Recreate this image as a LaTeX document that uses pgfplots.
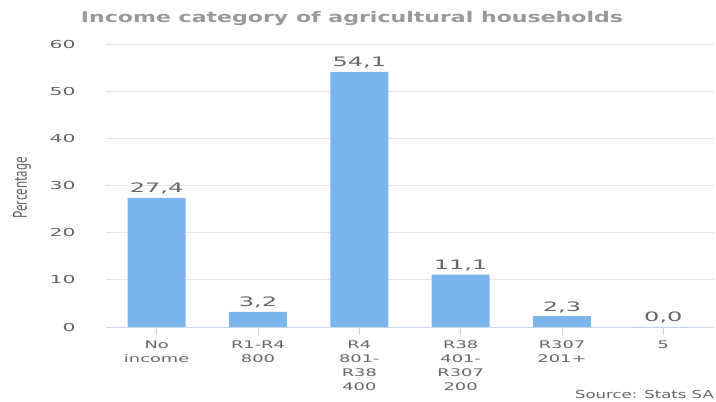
\documentclass[border=0pt]{standalone}
\usepackage{pgfplots}
\pgfplotsset{compat=1.18}
\usepackage{fontspec}
\setmainfont{DejaVu Sans}[FakeStretch=1.5]
\newfontfamily\ylabfont{PT Sans}
\newfontfamily\tickfont{DejaVu Sans}[FakeStretch=1.85]
\newfontfamily\catfont{DejaVu Sans}[FakeStretch=1.7]
\definecolor{barc}{HTML}{7CB5EC}
\definecolor{gridc}{HTML}{E6E6E6}
\definecolor{axc}{HTML}{CCD6EB}
\definecolor{tickc}{HTML}{666666}
\definecolor{titlec}{HTML}{999999}
\begin{document}
\begin{tikzpicture}[x=1pt,y=1pt]
\path[use as bounding box] (0,0) rectangle (716,402);
\begin{axis}[
  at={(106pt,75pt)}, anchor=south west,
  scale only axis, width=608pt, height=283pt,
  xmin=-0.5, xmax=5.5, ymin=0, ymax=60,
  ytick={0,10,...,60},
  xtick={0,...,5},
  xticklabels={{No\\income},{R1-R4\\800},{R4\\801-\\R38\\400},{R38\\401-\\R307\\200},{R307\\201+},{5}},
  xticklabel style={align=center, font=\catfont\fontsize{10.5}{14}\selectfont, text=tickc, yshift=-2pt},
  yticklabel style={font=\tickfont\fontsize{11}{13}\selectfont, text=tickc, xshift=-19pt},
  /pgf/number format/assume math mode=true,
  ymajorgrids, grid style={draw=gridc, line width=0.8pt},
  axis x line*=bottom, axis y line*=left,
  x axis line style={draw=axc, line width=0.8pt, -},
  y axis line style={draw=none},
  tick align=outside, major tick length=8pt,
  xtick style={draw=axc, line width=0.8pt},
  ytick style={draw=none},
  ylabel={\scalebox{1}[1.5]{\ylabfont\fontsize{13}{15}\selectfont Percentage}},
  ylabel style={at={(axis description cs:-0.138,0.492)}, anchor=center, text=tickc},
  ybar, bar width=58pt,
  nodes near coords,
  nodes near coords style={font=\tickfont\fontsize{13}{15}\selectfont, text=tickc,
    /pgf/number format/.cd, fixed, fixed zerofill, precision=1, use comma},
]
\addplot[fill=barc, draw=none] coordinates {(0,27.4) (1,3.2) (2,54.1) (3,11.1) (4,2.3) (5,0.0)};
\end{axis}
\node[font=\bfseries\fontsize{14.7}{17}\selectfont, text=titlec] at (352,383) {Income category of agricultural households};
\node[anchor=east, font=\fontsize{11}{13}\selectfont, text=tickc, inner sep=0pt] at (714,8) {Source: Stats SA};
\end{tikzpicture}
\end{document}
